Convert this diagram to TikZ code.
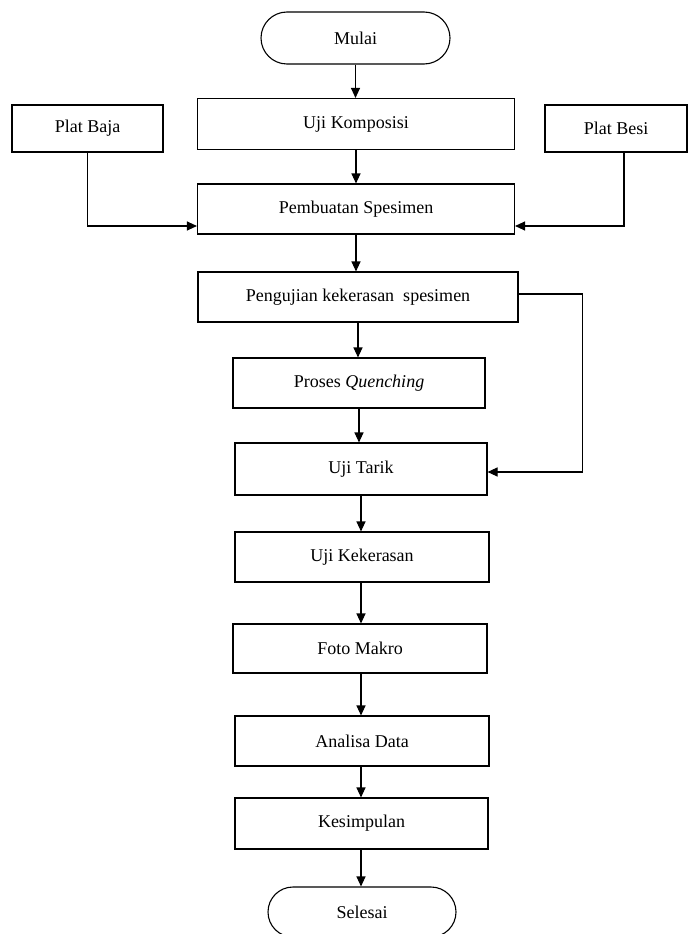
\documentclass[tikz,border=0pt]{standalone}
\usepackage{fontspec}
\setmainfont{Liberation Serif}
\usetikzlibrary{shapes.misc,arrows.meta,positioning}

\begin{document}
\begin{tikzpicture}[x=1pt, y=-1pt,
  proc/.style={draw, line width=1.1pt, minimum height=50pt, inner sep=0pt, font=\fontsize{18}{21}\selectfont},
  term/.style={proc, rounded rectangle, minimum width=189pt, minimum height=52pt},
  arrow/.style={-{Triangle[length=10pt,width=9pt]}, line width=1.1pt},
]
\useasboundingbox (0,0) rectangle (688,934);
\clip (0,0) rectangle (688,934);

\node[term] (mulai) at (355.5, 38) {Mulai};
\node[proc, minimum width=317pt, minimum height=51pt] (ujikomp) at (356, 124) {Uji Komposisi};
\node[proc, minimum width=151pt, minimum height=47pt] (platbaja) at (87.5, 128.5) {Plat Baja};
\node[proc, minimum width=142pt, minimum height=47pt] (platbesi) at (616, 128.5) {Plat Besi};
\node[proc, minimum width=317pt] (pembuatan) at (356, 209) {Pembuatan Spesimen};
\node[proc, minimum width=320pt] (pengujian) at (358, 297) {Pengujian kekerasan\ \ spesimen};
\node[proc, minimum width=252pt] (quench) at (359, 383) {Proses \textit{Quenching}};
\node[proc, minimum width=252pt, minimum height=52pt] (ujitarik) at (361, 469) {Uji Tarik};
\node[proc, minimum width=254pt] (ujikeras) at (362, 557) {Uji Kekerasan};
\node[proc, minimum width=254pt, minimum height=49pt] (foto) at (360, 648.5) {Foto Makro};
\node[proc, minimum width=254pt] (analisa) at (362, 741) {Analisa Data};
\node[proc, minimum width=253pt, minimum height=51pt] (kesimpulan) at (361.5, 823.5) {Kesimpulan};
\node[term, minimum width=188pt, minimum height=50pt] (selesai) at (362, 912) {Selesai};

\draw[arrow] (mulai.south) -- (mulai.south |- ujikomp.north);
\draw[arrow] (ujikomp.south) -- (ujikomp.south |- pembuatan.north);
\draw[arrow] (platbaja.south) |- ([yshift=-17pt]pembuatan.west);
\draw[arrow] ([xshift=8pt]platbesi.south) |- ([yshift=-17pt]pembuatan.east);
\draw[arrow] (pembuatan.south) -- (pembuatan.south |- pengujian.north);
\draw[arrow] (pengujian.south) -- (pengujian.south |- quench.north);
\draw[arrow] ([yshift=3pt]pengujian.east) -- ++(64,0) |- ([yshift=-3pt]ujitarik.east);
\draw[arrow] (quench.south) -- (quench.south |- ujitarik.north);
\draw[arrow] (ujitarik.south) -- (ujitarik.south |- ujikeras.north);
\draw[arrow] (ujitarik.south |- ujikeras.south) -- (ujitarik.south |- foto.north);
\draw[arrow] (ujitarik.south |- foto.south) -- (ujitarik.south |- analisa.north);
\draw[arrow] (ujitarik.south |- analisa.south) -- (ujitarik.south |- kesimpulan.north);
\draw[arrow] (ujitarik.south |- kesimpulan.south) -- (ujitarik.south |- selesai.north);
\end{tikzpicture}
\end{document}
